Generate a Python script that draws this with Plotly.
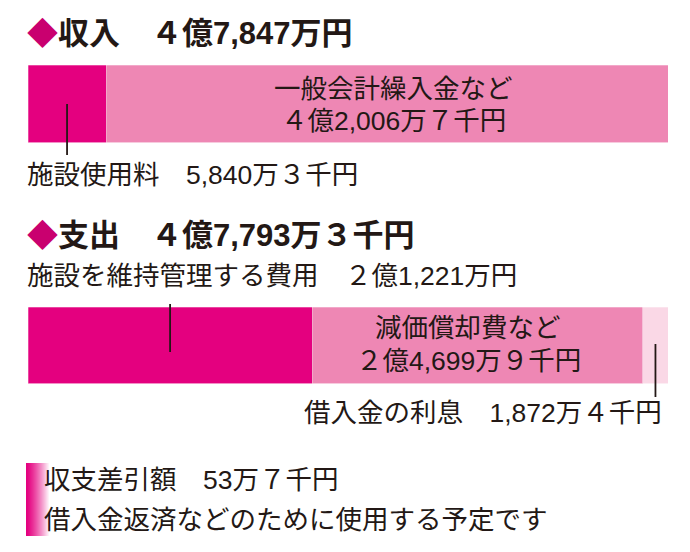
import plotly.graph_objects as go

# ---------------- data (amounts in 万円) ----------------
income_labels = ["施設使用料", "一般会計繰入金など"]
income_values = [5840.3, 42006.7]
expense_labels = ["施設を維持管理する費用", "減価償却費など", "借入金の利息"]
expense_values = [21221.0, 24699.9, 1872.4]
balance_note = "借入金返済などのために使用する予定です"

# ---------------- styles ----------------
income_colors = ["#E4007F", "#EE87B4"]
expense_colors = ["#E4007F", "#EE87B4", "#FAD8E6"]
DARK = "#231815"
DIAMOND = "#C9006F"
FONT = "Liberation Sans, Noto Sans CJK JP"

W, H = 690, 552


def px(x):
    return x / W


def py(y):
    return 1 - y / H


FW = str.maketrans("0123456789", "０１２３４５６７８９")


def fmt(man):
    sen = round(man * 10)
    oku, rest = divmod(sen, 100000)
    man_i, sen_d = divmod(rest, 10)
    s = ""
    if oku:
        s += str(oku).translate(FW) + "億"
    if man_i:
        s += f"{man_i:,}" + "万"
    if sen_d:
        s += str(sen_d).translate(FW) + "千"
    return s + "円"


income_total = sum(income_values)
expense_total = sum(expense_values)
balance = income_total - expense_total

fig = go.Figure()
for lab, v, c in zip(income_labels, income_values, income_colors):
    fig.add_trace(go.Bar(orientation="h", x=[v], y=["収入"], name=lab, width=1,
                         marker=dict(color=c, line=dict(width=0.8, color="rgba(255,255,255,0.35)")),
                         xaxis="x", yaxis="y", hoverinfo="skip"))
for lab, v, c in zip(expense_labels, expense_values, expense_colors):
    fig.add_trace(go.Bar(orientation="h", x=[v], y=["支出"], name=lab, width=1,
                         marker=dict(color=c, line=dict(width=0.8, color="rgba(255,255,255,0.35)")),
                         xaxis="x2", yaxis="y2", hoverinfo="skip"))

ann = []
REG = 26.5
TITLE = 31


def text(x, y, s, size=REG, bold=False, anchor="left"):
    ann.append(dict(x=px(x), y=py(y), xref="paper", yref="paper", text=s,
                    showarrow=False, xanchor=anchor, yanchor="middle",
                    font=dict(family=FONT, size=size, color=DARK,
                              weight="bold" if bold else "normal")))


dia = f"<span style='color:{DIAMOND}'>◆</span>"
text(25, 33, dia + "収入　" + fmt(income_total), size=TITLE, bold=True)
text(25, 235, dia + "支出　" + fmt(expense_total), size=TITLE, bold=True)

text(25, 175, income_labels[0] + "　" + fmt(income_values[0]))
text(393, 89, income_labels[1], anchor="center")
text(393, 121, fmt(income_values[1]), anchor="center")

text(25, 276, expense_labels[0] + "　" + fmt(expense_values[0]))
text(468, 328, expense_labels[1], anchor="center")
text(468, 361, fmt(expense_values[1]), anchor="center")
text(664, 413, expense_labels[2] + "　" + fmt(expense_values[2]), anchor="right")

text(42, 480, "収支差引額　" + fmt(balance))
text(42, 520, balance_note)

shapes = []
line = dict(color=DARK, width=1.8)
shapes.append(dict(type="line", xref="x", yref="paper",
                   x0=income_values[0] / 2, x1=income_values[0] / 2,
                   y0=py(104), y1=py(155), line=line))
shapes.append(dict(type="line", xref="x2", yref="paper",
                   x0=expense_values[0] / 2, x1=expense_values[0] / 2,
                   y0=py(304), y1=py(352), line=line))
xm = expense_values[0] + expense_values[1] + expense_values[2] / 2
shapes.append(dict(type="line", xref="x2", yref="paper",
                   x0=xm, x1=xm, y0=py(344), y1=py(397), line=line))

# gradient accent bar
n = 24
for i in range(n):
    t = (i / (n - 1)) ** 1.3
    r = round(228 + (255 - 228) * t)
    g = round(0 + 255 * t)
    b = round(127 + (255 - 127) * t)
    shapes.append(dict(type="rect", xref="paper", yref="paper",
                       x0=px(26 + i), x1=px(27 + i), y0=py(536), y1=py(463),
                       fillcolor=f"rgb({r},{g},{b})", line=dict(width=0), layer="below"))

fig.update_layout(
    width=W, height=H, margin=dict(l=0, r=0, t=0, b=0),
    paper_bgcolor="white", plot_bgcolor="white",
    barmode="stack", showlegend=False,
    annotations=ann, shapes=shapes,
    xaxis=dict(domain=[px(28), px(668)], range=[0, income_total], visible=False,
               anchor="y", fixedrange=True),
    yaxis=dict(domain=[py(142.5), py(65)], range=[-0.5, 0.5], type="category",
               visible=False, anchor="x", fixedrange=True),
    xaxis2=dict(domain=[px(28), px(668)], range=[0, expense_total], visible=False,
                anchor="y2", fixedrange=True),
    yaxis2=dict(domain=[py(383.5), py(307)], range=[-0.5, 0.5], type="category",
                visible=False, anchor="x2", fixedrange=True),
)

fig.write_html("out.html")
